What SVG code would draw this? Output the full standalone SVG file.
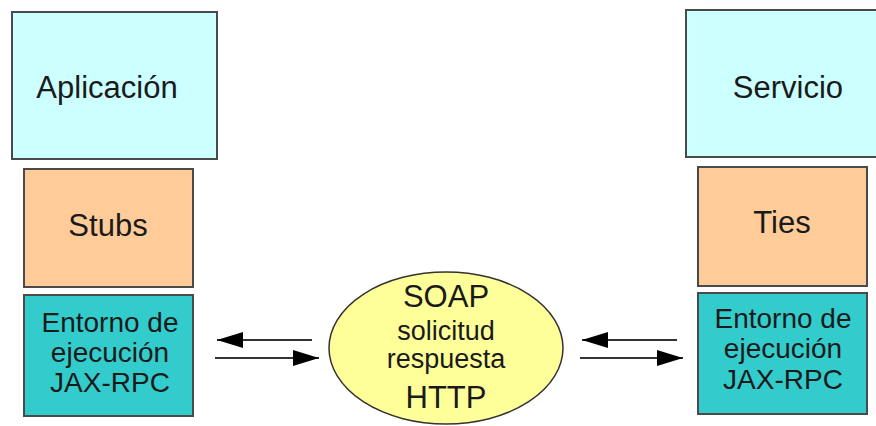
<svg xmlns="http://www.w3.org/2000/svg" width="876" height="426" viewBox="0 0 876 426">
<style>
text{font-family:"Liberation Sans",Arial,sans-serif;fill:#1a1a1a;text-anchor:middle}
.box{stroke:#4a4a4a;stroke-width:2}
.app{fill:#ccffff}
.stub{fill:#ffcc99}
.env{fill:#33cccc}
.ell{fill:#ffff99;stroke:#333;stroke-width:1.5}
.big{font-size:31px}
.mid{font-size:28px}
.sm{font-size:27px}
.ln{stroke:#333;stroke-width:2;fill:none}
</style>
<defs>
<marker id="ah" viewBox="0 0 26 16" refX="26" refY="8" markerWidth="26" markerHeight="16" markerUnits="userSpaceOnUse" orient="auto">
<path d="M0,0 L26,8 L0,16 Z" fill="#000"/>
</marker>
</defs>
<g id="aplicacion">
<rect class="box app" x="12" y="12" width="205" height="147"/>
<text class="big" x="107" y="98">Aplicación</text>
</g>
<g id="stubs">
<rect class="box stub" x="24" y="169" width="169" height="118"/>
<text class="big" x="108" y="236">Stubs</text>
</g>
<g id="entorno-cliente">
<rect class="box env" x="24" y="295" width="169" height="121"/>
<text class="mid" x="110" y="332">Entorno de</text>
<text class="mid" x="110" y="362">ejecución</text>
<text class="mid" x="110" y="392">JAX-RPC</text>
</g>
<g id="servicio">
<rect class="box app" x="686" y="10" width="200" height="147"/>
<text class="big" x="788" y="98">Servicio</text>
</g>
<g id="ties">
<rect class="box stub" x="698" y="167" width="169" height="119"/>
<text class="big" x="782" y="233">Ties</text>
</g>
<g id="entorno-servidor">
<rect class="box env" x="698" y="293" width="169" height="121"/>
<text class="mid" x="783" y="328">Entorno de</text>
<text class="mid" x="783" y="358">ejecución</text>
<text class="mid" x="783" y="389">JAX-RPC</text>
</g>
<g id="soap">
<ellipse class="ell" cx="446" cy="348" rx="117" ry="76"/>
<text class="big" x="446" y="307">SOAP</text>
<text class="sm" x="446" y="340">solicitud</text>
<text class="sm" x="446" y="368">respuesta</text>
<text class="big" x="446" y="408">HTTP</text>
</g>
<g id="connectors">
<line class="ln" x1="312" y1="340" x2="217" y2="340" marker-end="url(#ah)"/>
<line class="ln" x1="215" y1="358" x2="319" y2="358" marker-end="url(#ah)"/>
<line class="ln" x1="677" y1="340" x2="582" y2="340" marker-end="url(#ah)"/>
<line class="ln" x1="580" y1="358" x2="683" y2="358" marker-end="url(#ah)"/>
</g>
</svg>
